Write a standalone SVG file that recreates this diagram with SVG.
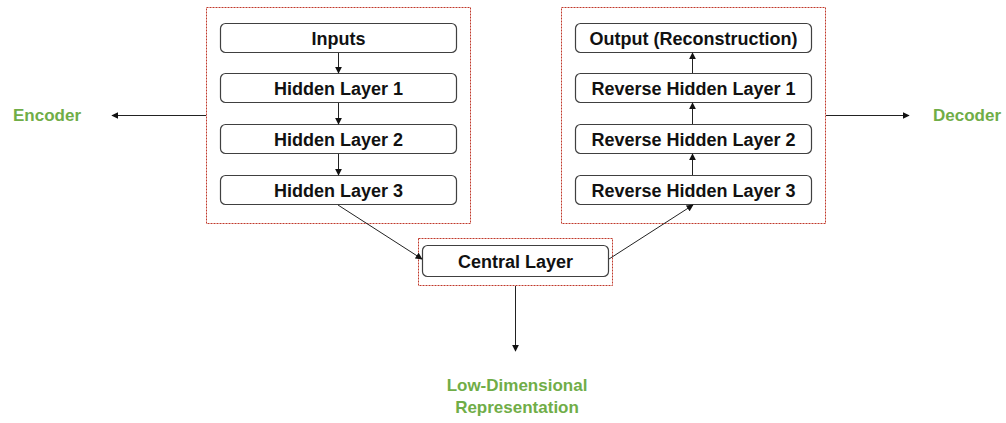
<svg xmlns="http://www.w3.org/2000/svg" width="1006" height="423" viewBox="0 0 1006 423">
  <style>
    .frame { fill: none; stroke: #c0392b; stroke-width: 1; stroke-dasharray: 2 1; }
    .node rect { fill: #ffffff; stroke: #404040; stroke-width: 1.2; }
    .node text { font-family: "Liberation Sans", Arial, sans-serif; font-weight: bold; font-size: 18px; fill: #111111; text-anchor: middle; }
    .label { font-family: "Liberation Sans", Arial, sans-serif; font-weight: bold; font-size: 17px; fill: #70ad47; text-anchor: middle; }
    .edge { fill: none; stroke: #222222; stroke-width: 1; marker-end: url(#arrow); }
  </style>
  <defs>
    <marker id="arrow" viewBox="0 0 10 10" refX="9" refY="5" markerWidth="7" markerHeight="7" markerUnits="userSpaceOnUse" orient="auto">
      <path d="M0,0 L10,5 L0,10 z" fill="#111111"/>
    </marker>
  </defs>
  <rect width="1006" height="423" fill="#ffffff"/>

  <!-- grouping frames -->
  <g id="frames">
    <rect class="frame" x="206.5" y="7.5" width="264" height="216"/>
    <rect class="frame" x="561.5" y="7.5" width="264" height="216"/>
    <rect class="frame" x="418.5" y="238.5" width="194" height="47"/>
  </g>

  <!-- encoder stack -->
  <g id="inputs" class="node">
    <rect x="220.5" y="23.5" width="236" height="29" rx="5"/>
    <text x="338.5" y="45">Inputs</text>
  </g>
  <g id="hidden1" class="node">
    <rect x="220.5" y="73.5" width="236" height="29" rx="5"/>
    <text x="338.5" y="95">Hidden Layer 1</text>
  </g>
  <g id="hidden2" class="node">
    <rect x="220.5" y="124.5" width="236" height="29" rx="5"/>
    <text x="338.5" y="146">Hidden Layer 2</text>
  </g>
  <g id="hidden3" class="node">
    <rect x="220.5" y="175.5" width="236" height="29" rx="5"/>
    <text x="338.5" y="197">Hidden Layer 3</text>
  </g>

  <!-- decoder stack -->
  <g id="output" class="node">
    <rect x="575.5" y="23.5" width="236" height="29" rx="5"/>
    <text x="693.5" y="45">Output (Reconstruction)</text>
  </g>
  <g id="rev1" class="node">
    <rect x="575.5" y="73.5" width="236" height="29" rx="5"/>
    <text x="693.5" y="95">Reverse Hidden Layer 1</text>
  </g>
  <g id="rev2" class="node">
    <rect x="575.5" y="124.5" width="236" height="29" rx="5"/>
    <text x="693.5" y="146">Reverse Hidden Layer 2</text>
  </g>
  <g id="rev3" class="node">
    <rect x="575.5" y="175.5" width="236" height="29" rx="5"/>
    <text x="693.5" y="197">Reverse Hidden Layer 3</text>
  </g>

  <!-- bottleneck -->
  <g id="central" class="node">
    <rect x="422.5" y="245.5" width="186" height="31" rx="5"/>
    <text x="515.5" y="268">Central Layer</text>
  </g>

  <!-- side labels -->
  <g id="encoder-label"><text class="label" x="47" y="121">Encoder</text></g>
  <g id="decoder-label"><text class="label" x="967" y="121">Decoder</text></g>
  <g id="latent-label">
    <text class="label" x="517" y="391">Low-Dimensional</text>
    <text class="label" x="517" y="413">Representation</text>
  </g>

  <!-- connectors -->
  <g id="connectors">
    <line class="edge" x1="338.5" y1="53" x2="338.5" y2="73"/>
    <line class="edge" x1="338.5" y1="103" x2="338.5" y2="124"/>
    <line class="edge" x1="338.5" y1="154" x2="338.5" y2="175"/>
    <line class="edge" x1="338" y1="205" x2="422" y2="259"/>
    <line class="edge" x1="609" y1="259" x2="693" y2="205"/>
    <line class="edge" x1="692.5" y1="175" x2="692.5" y2="154"/>
    <line class="edge" x1="692.5" y1="124" x2="692.5" y2="103"/>
    <line class="edge" x1="692.5" y1="73" x2="692.5" y2="53"/>
    <line class="edge" x1="206" y1="115.5" x2="112" y2="115.5"/>
    <line class="edge" x1="826" y1="115.5" x2="909" y2="115.5"/>
    <line class="edge" x1="515.5" y1="286" x2="515.5" y2="351"/>
  </g>
</svg>
